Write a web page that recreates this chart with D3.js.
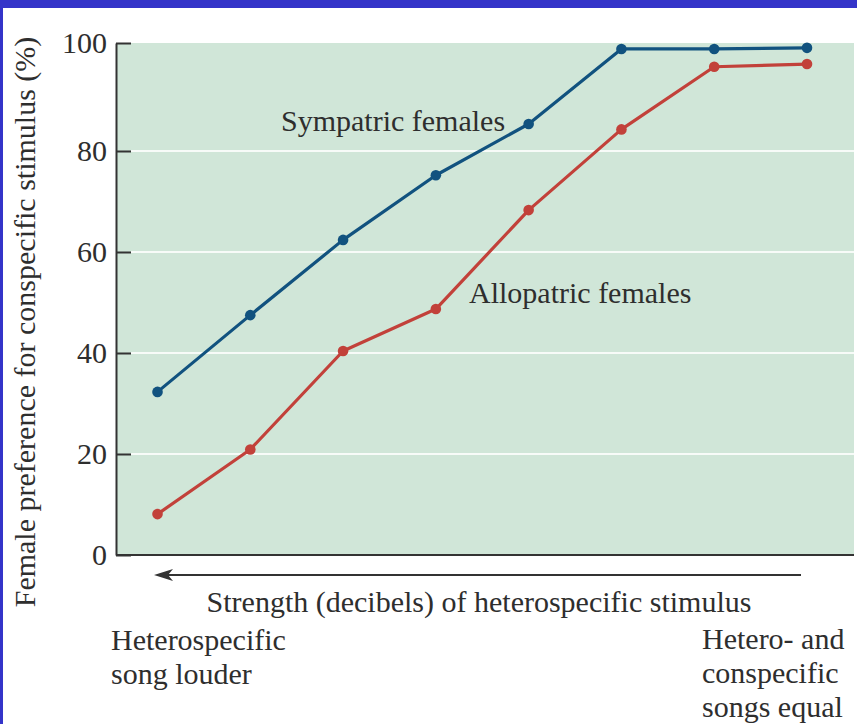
<!DOCTYPE html>
<html><head><meta charset="utf-8">
<script src="https://cdn.jsdelivr.net/npm/d3@7"></script>
<style>
body{margin:0;background:#fff}
svg{display:block}
text{font-family:"Liberation Serif","Times New Roman",serif;fill:#2e2e2e}
</style>
</head><body><svg id="c" width="857" height="724"></svg>
<script>
// ---- data ----
const steps = [1, 2, 3, 4, 5, 6, 7, 8];
const sympatric = [32.3, 47.5, 62.4, 75.2, 85.0, 98.9, 98.9, 99.1];
const allopatric = [8.1, 20.9, 40.4, 48.7, 68.3, 84.0, 95.6, 96.1];
const yTicks = [0, 20, 40, 60, 80, 100];
const gridTicks = [20, 40, 60, 80];
const seriesNames = ["Sympatric females", "Allopatric females"];
const yTitle = "Female preference for conspecific stimulus (%)";
const xTitle = "Strength (decibels) of heterospecific stimulus";
const leftNote = ["Heterospecific", "song louder"];
const rightNote = ["Hetero- and", "conspecific", "songs equal"];

(function () {
const svg = d3.select("#c");
const W = 857, H = 724;
const pL = 116, pR = 854, pT = 43, pB = 555;
const FS = 30;

// frame border (blue)
svg.append("rect").attr("x", 0).attr("y", 0).attr("width", W).attr("height", 8).attr("fill", "#3434c9");
svg.append("rect").attr("x", 0).attr("y", 0).attr("width", 3).attr("height", H).attr("fill", "#3434c9");

const x = d3.scalePoint().domain(steps).range([157.5, 807]);
const y = d3.scaleLinear().domain([0, 80, 100]).range([pB, 151, pT]);

// plot background
svg.append("rect").attr("x", pL + 1).attr("y", pT).attr("width", pR - pL - 1).attr("height", pB - pT).attr("fill", "#d0e6d8");

// gridlines
svg.append("g").selectAll("line").data(gridTicks).join("line")
  .attr("x1", pL + 15).attr("x2", pR)
  .attr("y1", d => y(d)).attr("y2", d => y(d))
  .attr("stroke", "#f7fbf8").attr("stroke-width", 2.2);

// y axis
const ya = svg.append("g").attr("transform", `translate(${pL},0)`)
  .call(d3.axisLeft(y).tickValues(yTicks).tickSize(-15).tickSizeOuter(0).tickPadding(9).tickFormat(d3.format("d")));
ya.select(".domain").attr("stroke", "#333").attr("stroke-width", 2);
ya.selectAll(".tick line").attr("stroke", "#333").attr("stroke-width", 2);
ya.selectAll(".tick text").attr("x", -9).attr("font-size", FS).attr("font-family", "Liberation Serif").attr("fill", "#2e2e2e");

// bottom axis line
svg.append("line").attr("x1", pL).attr("x2", pR).attr("y1", pB).attr("y2", pB)
  .attr("stroke", "#333").attr("stroke-width", 2);

// lines
const line = d3.line().x((d, i) => x(steps[i])).y(d => y(d));
const series = [
  {vals: sympatric, color: "#11527f"},
  {vals: allopatric, color: "#c2413a"}
];
series.forEach(s => {
  svg.append("path").datum(s.vals).attr("d", line).attr("fill", "none")
    .attr("stroke", s.color).attr("stroke-width", 3.2).attr("stroke-linejoin", "round");
  svg.append("g").selectAll("circle").data(s.vals).join("circle")
    .attr("cx", (d, i) => x(steps[i])).attr("cy", d => y(d)).attr("r", 5.3).attr("fill", s.color);
});

// series labels
svg.append("text").attr("x", 281).attr("y", 131).attr("font-size", FS).text(seriesNames[0]);
svg.append("text").attr("x", 469).attr("y", 303).attr("font-size", FS).text(seriesNames[1]);

// y title
svg.append("text").attr("transform", `translate(35,322) rotate(-90)`).attr("text-anchor", "middle")
  .attr("font-size", FS).text(yTitle);

// arrow
svg.append("line").attr("x1", 162).attr("x2", 801).attr("y1", 575).attr("y2", 575)
  .attr("stroke", "#333").attr("stroke-width", 1.8);
svg.append("path").attr("d", "M154,575 L173,569 L168,575 L173,581 Z").attr("fill", "#333");

// x title
svg.append("text").attr("x", 479).attr("y", 612).attr("text-anchor", "middle").attr("font-size", FS).text(xTitle);

// notes
svg.append("g").selectAll("text").data(leftNote).join("text")
  .attr("x", 111).attr("y", (d, i) => 650 + i * 34).attr("font-size", FS).text(d => d);
svg.append("g").selectAll("text").data(rightNote).join("text")
  .attr("x", 702).attr("y", (d, i) => 649 + i * 34).attr("font-size", FS).text(d => d);
})();
</script>
</body></html>
